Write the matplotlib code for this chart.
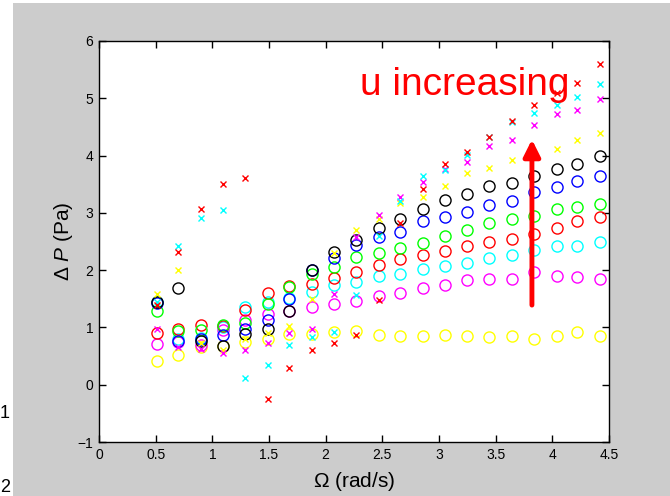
import matplotlib
matplotlib.use("Agg")
import matplotlib.pyplot as plt
from matplotlib.patches import Rectangle

plt.rcParams['font.family'] = ['Liberation Sans', 'DejaVu Sans']
plt.rcParams['mathtext.fontset'] = 'custom'
plt.rcParams['mathtext.it'] = 'Liberation Sans:italic'
plt.rcParams['mathtext.rm'] = 'Liberation Sans'

# rotation rate (rad/s)
omega = [0.51, 0.70, 0.90, 1.09, 1.29, 1.49, 1.68, 1.88, 2.07, 2.27, 2.47,
         2.66, 2.86, 3.05, 3.25, 3.44, 3.64, 3.84, 4.04, 4.22, 4.42]

# measured pressure drop (circles)
circ_yellow = [0.42, 0.52, 0.65, 0.68, 0.75, 0.79, 0.89, 0.89, 0.92, 0.94, 0.87,
               0.85, 0.85, 0.87, 0.85, 0.83, 0.85, 0.79, 0.85, 0.92, 0.85]
circ_magenta = [0.71, 0.75, 0.70, 0.95, 1.13, 1.23, 1.28, 1.36, 1.41, 1.47, 1.54,
                1.60, 1.68, 1.74, 1.82, 1.84, 1.84, 1.96, 1.90, 1.88, 1.84]
circ_cyan = [1.44, 0.80, 0.82, 1.01, 1.36, 1.45, 1.52, 1.62, 1.74, 1.80, 1.89,
             1.94, 2.02, 2.07, 2.12, 2.21, 2.26, 2.35, 2.42, 2.42, 2.50]
circ_red = [0.90, 0.97, 1.04, 1.03, 1.30, 1.60, 1.72, 1.76, 1.86, 1.96, 2.09,
            2.19, 2.26, 2.33, 2.42, 2.49, 2.54, 2.63, 2.73, 2.86, 2.93]
circ_green = [1.29, 0.93, 0.95, 1.04, 1.07, 1.41, 1.70, 1.94, 2.06, 2.23, 2.30,
              2.38, 2.48, 2.60, 2.70, 2.83, 2.89, 2.95, 3.06, 3.10, 3.15]
circ_blue = [1.42, 0.76, 0.80, 0.87, 0.98, 1.13, 1.49, 2.01, 2.22, 2.44, 2.58,
             2.67, 2.86, 2.93, 3.02, 3.14, 3.21, 3.36, 3.45, 3.56, 3.64]
circ_black = [1.45, 1.68, 0.76, 0.68, 0.88, 0.98, 1.29, 2.00, 2.32, 2.53, 2.73,
              2.90, 3.07, 3.22, 3.33, 3.47, 3.52, 3.65, 3.76, 3.85, 3.99]

# crosses
x_yellow = [1.58, 2.00, 0.73, 0.61, 0.80, 0.90, 1.03, 1.49, 2.30, 2.70, 2.90,
            3.17, 3.28, 3.47, 3.69, 3.78, 3.92, 3.99, 4.11, 4.28, 4.39]
x_magenta = [0.98, 0.65, 0.62, 0.56, 0.61, 0.72, 0.90, 0.98, 1.58, 2.57, 2.97,
             3.27, 3.54, 3.76, 3.88, 4.17, 4.27, 4.53, 4.72, 4.80, 4.98]
x_cyan = [1.45, 2.42, 2.91, 3.05, 0.11, 0.35, 0.69, 0.84, 0.92, 1.56, 2.60,
          3.21, 3.64, 3.75, 4.01, 4.32, 4.58, 4.74, 4.88, 5.03, 5.25]
x_red = [1.39, 2.32, 3.07, 3.50, 3.61, -0.25, 0.30, 0.60, 0.72, 0.86, 1.48,
         2.83, 3.41, 3.85, 4.07, 4.33, 4.61, 4.88, 5.10, 5.27, 5.60]

circles = [(circ_yellow, 'yellow'), (circ_magenta, 'magenta'), (circ_cyan, 'cyan'),
           (circ_red, 'red'), (circ_green, 'lime'), (circ_blue, 'blue'),
           (circ_black, 'black')]
crosses = [(x_yellow, 'yellow'), (x_magenta, 'magenta'), (x_cyan, 'cyan'),
           (x_red, 'red')]

fig = plt.figure(figsize=(6.7, 4.96), dpi=100, facecolor='white')
# grey panel behind the axes
fig.patches.append(Rectangle((13 / 670, 0), 1, 493 / 496, transform=fig.transFigure,
                             facecolor='#cccccc', edgecolor='none', zorder=-1))
fig.text(0.0, 1 - 413 / 496, '1', fontsize=13, va='center', ha='left')
fig.text(0.0, 1 - 487 / 496, '2', fontsize=13, va='center', ha='left')

ax = fig.add_axes([99 / 670, 54 / 496, 510 / 670, 401 / 496])
ax.set_facecolor('white')

for vals, c in circles:
    ax.plot(omega, vals, 'o', ms=8, mfc='none', mec=c, mew=1)
for vals, c in crosses:
    ax.plot(omega, vals, 'x', ms=4.5, color=c, mew=1)

ax.set_xlim(0, 4.5)
ax.set_ylim(-1, 6)
ax.set_xticks([0, 0.5, 1, 1.5, 2, 2.5, 3, 3.5, 4, 4.5])
ax.set_xticklabels(['0', '0.5', '1', '1.5', '2', '2.5', '3', '3.5', '4', '4.5'])
ax.set_yticks(range(-1, 7))
ax.tick_params(direction='in', top=True, right=True, length=5, labelsize=10,
               width=1, pad=4)
for s in ax.spines.values():
    s.set_linewidth(1)

ax.set_xlabel(r'$\mathit{Ω}$ (rad/s)', fontsize=15, labelpad=6)
ax.set_ylabel(r'$\mathit{Δ}$ $\mathit{P}$ (Pa)', fontsize=15, labelpad=2)

ax.text(2.30, 5.06, 'u increasing', color='red', fontsize=28, ha='left', va='baseline')
ax.annotate('', xy=(3.82, 4.28), xytext=(3.82, 1.39),
            arrowprops=dict(arrowstyle='-|>', color='red', lw=3.5,
                            mutation_scale=25, shrinkA=0, shrinkB=0))

fig.savefig('out.png', dpi=100)
